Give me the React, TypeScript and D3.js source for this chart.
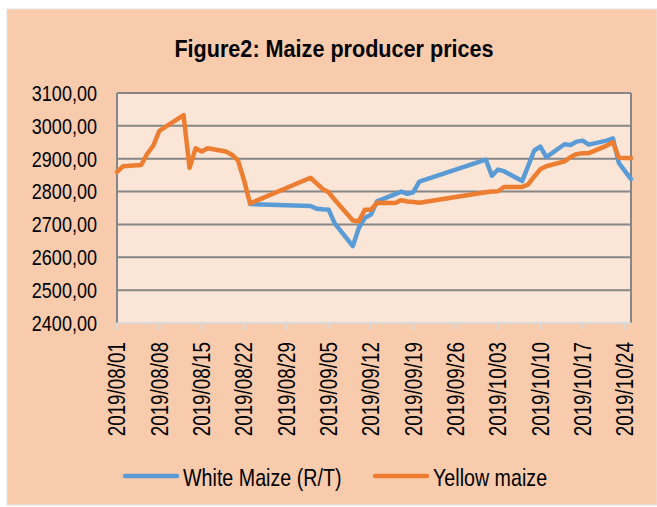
import React from 'react';
import * as d3 from 'd3';

const chartTitle = 'Figure2: Maize producer prices';
const seriesNames = ['White Maize (R/T)', 'Yellow maize'];
const seriesColors = ['#5B9BD5', '#ED7D31'];

const yellowDates = [
  '2019-08-01', '2019-08-02', '2019-08-05', '2019-08-06', '2019-08-07', '2019-08-08',
  '2019-08-12', '2019-08-13', '2019-08-14', '2019-08-15', '2019-08-16', '2019-08-19',
  '2019-08-20', '2019-08-21', '2019-08-22', '2019-08-23', '2019-09-02', '2019-09-03',
  '2019-09-04', '2019-09-05', '2019-09-06', '2019-09-09', '2019-09-10', '2019-09-11',
  '2019-09-12', '2019-09-13', '2019-09-16', '2019-09-17', '2019-09-18', '2019-09-19',
  '2019-09-20', '2019-10-01', '2019-10-02', '2019-10-03', '2019-10-04', '2019-10-07',
  '2019-10-08', '2019-10-09', '2019-10-10', '2019-10-11', '2019-10-14', '2019-10-15',
  '2019-10-16', '2019-10-17', '2019-10-18', '2019-10-21', '2019-10-22', '2019-10-23',
  '2019-10-24', '2019-10-25',
];
const yellowValues = [
  2860, 2877, 2881, 2915, 2940, 2985,
  3033, 2872, 2932, 2922, 2932, 2922,
  2912, 2895, 2835, 2764, 2842, 2825,
  2808, 2798, 2775, 2712, 2710, 2745,
  2745, 2766, 2765, 2774, 2770, 2768,
  2766, 2798, 2800, 2801, 2814, 2814,
  2822, 2846, 2868, 2877, 2892, 2905,
  2914, 2917, 2917, 2940, 2950, 2903,
  2902, 2902,
];

const whiteDates = [
  '2019-08-23', '2019-09-02', '2019-09-03', '2019-09-04', '2019-09-05', '2019-09-06',
  '2019-09-09', '2019-09-10', '2019-09-11', '2019-09-12', '2019-09-13', '2019-09-16',
  '2019-09-17', '2019-09-18', '2019-09-19', '2019-09-20', '2019-10-01', '2019-10-02',
  '2019-10-03', '2019-10-04', '2019-10-07', '2019-10-08', '2019-10-09', '2019-10-10',
  '2019-10-11', '2019-10-14', '2019-10-15', '2019-10-16', '2019-10-17', '2019-10-18',
  '2019-10-21', '2019-10-22', '2019-10-23', '2019-10-24', '2019-10-25',
];
const whiteValues = [
  2762, 2756, 2748, 2746, 2745, 2703,
  2634, 2690, 2720, 2730, 2770, 2792,
  2800, 2793, 2798, 2830, 2897, 2848,
  2867, 2862, 2832, 2878, 2925, 2937,
  2905, 2944, 2942, 2952, 2955, 2943,
  2955, 2962, 2887, 2862, 2838,
];

const yTicks = [2400, 2500, 2600, 2700, 2800, 2900, 3000, 3100];
const xTickLabels = [
  '2019/08/01', '2019/08/08', '2019/08/15', '2019/08/22', '2019/08/29', '2019/09/05',
  '2019/09/12', '2019/09/19', '2019/09/26', '2019/10/03', '2019/10/10', '2019/10/17',
  '2019/10/24',
];
const xDomain = ['2019-08-01', '2019-10-25'];

const FONT = "'Liberation Sans', Arial, sans-serif";
const NARROW = 0.82;

type NTextProps = {
  x: number;
  y: number;
  size: number;
  anchor?: 'start' | 'middle' | 'end';
  bold?: boolean;
  rotate?: number;
  squeeze?: number;
  children: React.ReactNode;
};

function NText({ x, y, size, anchor = 'start', bold = false, rotate = 0, squeeze = NARROW, children }: NTextProps) {
  return (
    <text
      transform={`translate(${x},${y}) rotate(${rotate}) scale(${squeeze},1)`}
      dy="0.36em"
      textAnchor={anchor}
      fontFamily={FONT}
      fontWeight={bold ? 'bold' : 'normal'}
      fontSize={size}
      fill="#000"
    >
      {children}
    </text>
  );
}

export default function App() {
  const W = 657;
  const H = 507;
  const plot = { left: 117, right: 631, top: 93, bottom: 323 };
  const parse = d3.timeParse('%Y-%m-%d');
  const parseTick = d3.timeParse('%Y/%m/%d');

  const x = d3
    .scaleTime()
    .domain([parse(xDomain[0]) as Date, parse(xDomain[1]) as Date])
    .range([plot.left, plot.right]);
  const y = d3.scaleLinear().domain([2400, 3100]).range([plot.bottom, plot.top]);

  const line = d3
    .line<[Date, number]>()
    .x((d) => x(d[0]))
    .y((d) => y(d[1]));

  const white: [Date, number][] = whiteDates.map((d, i) => [parse(d) as Date, whiteValues[i]]);
  const yellow: [Date, number][] = yellowDates.map((d, i) => [parse(d) as Date, yellowValues[i]]);

  const fmt = (v: number) => v.toFixed(2).replace('.', ',');

  return (
    <div style={{ position: 'absolute', left: 0, top: 0 }}>
      <svg width={W} height={H} style={{ display: 'block', background: '#ffffff' }}>
        <rect x={7} y={9} width={650} height={496} fill="#F8CBAD" stroke="#E2E2E2" strokeWidth={1} />
        <NText x={334} y={48.5} size={24} anchor="middle" bold squeeze={0.9}>
          {chartTitle}
        </NText>

        <rect
          x={plot.left}
          y={plot.top}
          width={plot.right - plot.left}
          height={plot.bottom - plot.top}
          fill="#FBE5D6"
        />

        {yTicks.map((t) =>
          t === 2400 ? null : (
            <line
              key={'g' + t}
              x1={plot.left}
              x2={plot.right}
              y1={y(t)}
              y2={y(t)}
              stroke="#868686"
              strokeWidth={2}
            />
          )
        )}
        <line x1={plot.left} x2={plot.left} y1={plot.top} y2={plot.bottom} stroke="#868686" strokeWidth={2} />
        <line x1={plot.right} x2={plot.right} y1={plot.top} y2={plot.bottom} stroke="#868686" strokeWidth={2} />
        <line x1={plot.left} x2={plot.right} y1={plot.bottom} y2={plot.bottom} stroke="#D9D9D9" strokeWidth={2} />

        {yTicks.map((t) => (
          <NText key={'yl' + t} x={97} y={y(t)} size={22} anchor="end">
            {fmt(t)}
          </NText>
        ))}

        {xTickLabels.map((lab) => {
          const px = x(parseTick(lab) as Date);
          return (
            <g key={'xt' + lab}>
              <line x1={px} x2={px} y1={plot.bottom} y2={plot.bottom + 7} stroke="#D9D9D9" strokeWidth={2} />
              <NText x={px} y={342} size={23} anchor="end" rotate={-90}>
                {lab}
              </NText>
            </g>
          );
        })}

        <path d={line(white) || ''} fill="none" stroke={seriesColors[0]} strokeWidth={4.5} strokeLinejoin="round" strokeLinecap="round" />
        <path d={line(yellow) || ''} fill="none" stroke={seriesColors[1]} strokeWidth={4.5} strokeLinejoin="round" strokeLinecap="round" />

        <g>
          <line x1={125} x2={177} y1={476} y2={476} stroke={seriesColors[0]} strokeWidth={4.5} strokeLinecap="round" />
          <NText x={183} y={477} size={24}>
            {seriesNames[0]}
          </NText>
          <line x1={375} x2={427} y1={476} y2={476} stroke={seriesColors[1]} strokeWidth={4.5} strokeLinecap="round" />
          <NText x={433} y={477} size={24}>
            {seriesNames[1]}
          </NText>
        </g>
      </svg>
    </div>
  );
}
